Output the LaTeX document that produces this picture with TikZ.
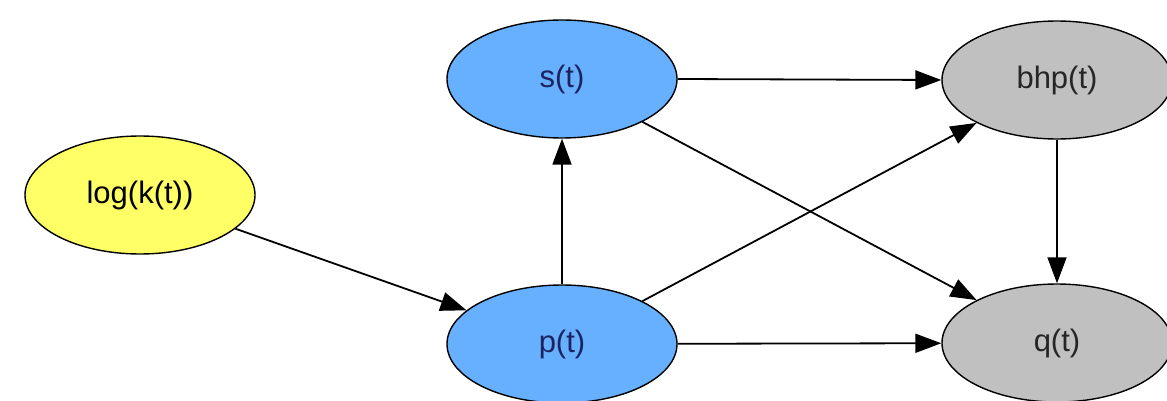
\documentclass[tikz,border=0pt]{standalone}
\usepackage{fontspec}
\setmainfont{Liberation Sans}
\usetikzlibrary{shapes.geometric,arrows.meta}
\definecolor{nodeyellow}{RGB}{255,255,102}
\definecolor{nodeblue}{RGB}{102,176,255}
\definecolor{nodegray}{RGB}{192,192,192}
\definecolor{bluetext}{RGB}{28,36,96}
\tikzset{
  var/.style={ellipse, draw=black, line width=1.4pt, inner sep=0pt,
    minimum width=230pt, minimum height=118pt,
    font=\fontsize{31}{34}\selectfont},
  input/.style={var, fill=nodeyellow, text=black},
  state/.style={var, fill=nodeblue, text=bluetext},
  output/.style={var, fill=nodegray, text=black!85},
  link/.style={draw=black, line width=1.8pt,
    -{Triangle[length=26pt,width=19pt]}}
}
\begin{document}
\begin{tikzpicture}[x=1pt,y=-1pt]
  \useasboundingbox (0,0) rectangle (1167,401);
  % variables
  \node[input]  (logk) at (140,195) {log(k(t))};
  \node[state]  (s)    at (562,79)  {s(t)};
  \node[state]  (p)    at (562,344) {p(t)};
  \node[output] (bhp)  at (1057,80) {bhp(t)};
  \node[output] (q)    at (1057,343) {q(t)};
  % dependencies
  \draw[link] (logk) -- (p);
  \draw[link] (p) -- (s);
  \draw[link] (s.east) -- (bhp.west);
  \draw[link] (s) -- (q);
  \draw[link] (p) -- (bhp);
  \draw[link] (p) -- (q);
  \draw[link] (bhp) -- (q);
\end{tikzpicture}
\end{document}
